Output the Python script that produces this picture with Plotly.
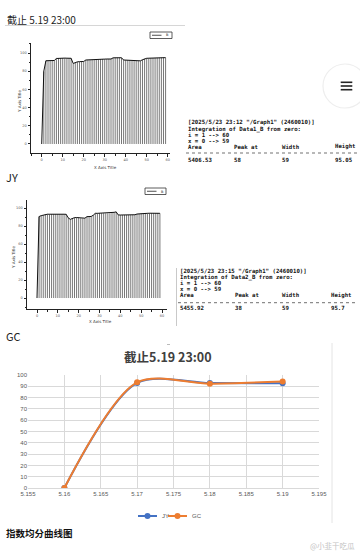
import plotly.graph_objects as go

# ---------------- data ----------------
origin_x = list(range(60))
jy_origin = [0, 80, 91.5, 91.6, 91.6, 91.7, 91.8, 94.0, 94.3, 94.4,
             94.4, 94.4, 94.3, 94.3, 94.2, 88.5, 89.5, 90.3, 90.5, 90.6,
             90.7, 92.3, 92.5, 92.6, 92.6, 92.6, 92.7, 92.7, 93.2, 93.3,
             93.3, 93.4, 93.4, 93.4, 94.7, 94.9, 94.9, 94.8, 94.8, 92.3,
             92.2, 92.2, 92.2, 92.1, 92.1, 91.4, 91.3, 91.4, 92.6, 93.6,
             94.2, 94.3, 94.4, 94.5, 94.6, 94.7, 94.8, 94.9, 95.05, 94.9]
gc_origin = [0, 90.5, 91.5, 92.0, 93.0, 93.1, 93.1, 93.2, 93.2, 93.2,
             93.2, 93.2, 93.1, 93.1, 93.0, 89.0, 87.4, 88.5, 89.3, 89.4,
             89.3, 88.6, 88.5, 88.7, 90.4, 90.5, 90.6, 92.0, 94.1, 94.1,
             94.2, 94.2, 94.2, 94.1, 94.1, 94.2, 94.6, 95.2, 95.7, 92.3,
             92.2, 92.2, 92.3, 92.3, 92.3, 92.4, 92.4, 92.5, 93.3, 93.6,
             94.0, 94.1, 94.1, 94.1, 94.2, 94.2, 94.2, 94.2, 94.2, 94.1]
origin_xticks = [0, 10, 20, 30, 40, 50, 60]
origin_yticks = [0, 20, 40, 60, 80, 100]

report1 = ['[2025/5/23 23:12 "/Graph1" (2460010)]',
           'Integration of Data1_B from zero:',
           'i = 1 --> 60',
           'x = 0 --> 59']
report2 = ['[2025/5/23 23:15 "/Graph1" (2460010)]',
           'Integration of Data2_B from zero:',
           'i = 1 --> 60',
           'x = 0 --> 59']
report_head = ['Area', 'Peak at', 'Width', 'Height']
report1_vals = ['5406.53', '58', '59', '95.05']
report2_vals = ['5455.92', '38', '59', '95.7']

series_names = ['JY', 'GC']
series_colors = ['#4472C4', '#ED7D31']
dates = [5.16, 5.17, 5.18, 5.19]
jy = [0, 93.0, 92.9, 92.6]
gc = [0, 93.5, 92.3, 94.2]
excel_xticks = [5.155, 5.16, 5.165, 5.17, 5.175, 5.18, 5.185, 5.19, 5.195]
excel_xlabels = ['5.155', '5.16', '5.165', '5.17', '5.175', '5.18', '5.185', '5.19', '5.195']
excel_yticks = list(range(0, 101, 10))

W, H = 360, 553
def px(x):
    return x / W
def py(y):
    return 1 - y / H

fig = go.Figure()

def drop_lines(xs, ys):
    lx, ly = [], []
    for a, b in zip(xs, ys):
        lx += [a, a, None]
        ly += [0, b, None]
    return lx, ly

for xs, ys, ax in [(origin_x, jy_origin, ''), (origin_x, gc_origin, '2')]:
    lx, ly = drop_lines(xs, ys)
    fig.add_trace(go.Scatter(x=lx, y=ly, mode='lines', line=dict(color='#555', width=0.8),
                             showlegend=False, hoverinfo='skip',
                             xaxis='x' + ax, yaxis='y' + ax))
    fig.add_trace(go.Scatter(x=xs, y=ys, mode='lines', line=dict(color='#111', width=1),
                             showlegend=False, xaxis='x' + ax, yaxis='y' + ax))

for name, col, vals in zip(series_names, series_colors, [jy, gc]):
    fig.add_trace(go.Scatter(x=dates, y=vals, name=name, mode='lines+markers',
                             line=dict(color=col, width=2, shape='spline', smoothing=0.85),
                             marker=dict(size=6, color=col), showlegend=False,
                             xaxis='x3', yaxis='y3'))

tickfont_o = dict(size=3.5, color='#555', family='DejaVu Sans')
def origin_axes(xd, yd, xr, yr):
    xa = dict(domain=xd, range=xr, tickvals=origin_xticks, showgrid=False, zeroline=False,
              showline=True, linecolor='#222', linewidth=1, ticks='outside', ticklen=2.5,
              tickcolor='#222', tickfont=tickfont_o, automargin=False,
              minor=dict(ticks='outside', ticklen=1.5, dtick=5, tickcolor='#222'))
    ya = dict(domain=yd, range=yr, tickvals=origin_yticks, showgrid=False, zeroline=False,
              showline=True, linecolor='#222', linewidth=1, ticks='outside', ticklen=2.5,
              tickcolor='#222', tickfont=tickfont_o, automargin=False,
              minor=dict(ticks='outside', ticklen=1.5, dtick=10, tickcolor='#222'))
    return xa, ya

xa1, ya1 = origin_axes([px(31), px(170)], [py(153), py(43)], [-5.1, 61.1], [-9.9, 111])
xa2, ya2 = origin_axes([px(27), px(167)], [py(309), py(200)], [-4.8, 62.4], [-12.2, 108.9])
ya1['anchor'] = 'x'; xa1['anchor'] = 'y'
xa2['anchor'] = 'y2'; ya2['anchor'] = 'x2'

grid = '#d9d9d9'
xa3 = dict(domain=[px(28), px(319)], range=[5.155, 5.195], tickvals=excel_xticks,
           ticktext=excel_xlabels, showgrid=True, gridcolor=grid, gridwidth=0.7,
           zeroline=False, showline=True, linecolor=grid, ticks='', automargin=False,
           tickfont=dict(size=6, color='#595959', family='Liberation Sans'), anchor='y3')
ya3 = dict(domain=[py(488), py(375)], range=[0, 100], tickvals=excel_yticks,
           showgrid=True, gridcolor=grid, gridwidth=0.7, zeroline=False, showline=False,
           ticks='', automargin=False,
           tickfont=dict(size=6, color='#595959', family='Liberation Sans'),
           anchor='x3')

fig.update_layout(
    width=W, height=H, margin=dict(l=0, r=0, t=0, b=0, pad=0, autoexpand=False),
    paper_bgcolor='white', plot_bgcolor='white', showlegend=False,
    xaxis=xa1, yaxis=ya1, xaxis2=xa2, yaxis2=ya2, xaxis3=xa3, yaxis3=ya3,
)

ann = []
def text(x, y, s, size, color='#222', xanchor='left', family='Noto Sans CJK SC', angle=0):
    ann.append(dict(x=px(x), y=py(y), xref='paper', yref='paper', text=s, showarrow=False,
                    xanchor=xanchor, yanchor='middle', textangle=angle,
                    font=dict(size=size, color=color, family=family)))

text(5, 19, '截止 5.19 23:00', 10, '#222')
text(4, 177, 'JY', 11, '#222')
text(4, 336, 'GC', 11, '#222')
text(4, 533, '<b>指数均分曲线图</b>', 9.5, '#111')
text(168, 356, '<b>截止5.19 23:00</b>', 12.5, '#404040', xanchor='center')
text(357, 545, '@小韭干吃瓜', 7.5, '#c4c4c4', xanchor='right')

# Origin axis titles
text(105, 167, 'X Axis Title', 4, '#333', xanchor='center', family='DejaVu Sans')
text(19, 102, 'Y Axis Title', 4, '#333', xanchor='center', family='DejaVu Sans', angle=-90)
text(100, 321, 'X Axis Title', 4, '#333', xanchor='center', family='DejaVu Sans')
text(13, 257, 'Y Axis Title', 4, '#333', xanchor='center', family='DejaVu Sans', angle=-90)
text(164, 35, 'B', 3.5, '#222', family='DejaVu Sans')
text(159, 191.5, 'B', 3.5, '#222', family='DejaVu Sans')

mono = 'DejaVu Sans Mono'
def report(x0, ys, lines, cols, vals, yval):
    for yy, s in zip(ys, lines):
        text(x0, yy, '<b>' + s + '</b>', 5.7, '#111', family=mono)
    for cx, s in zip(cols, report_head):
        text(cx, ys[-1] + 6, '<b>' + s + '</b>', 5.7, '#111', family=mono)
    for cx, s in zip(cols, vals):
        text(cx, yval, '<b>' + s + '</b>', 5.7, '#111', family=mono)

report(186, [123, 129, 135, 141], report1, [186, 232, 280, 333], report1_vals, 160)
report(178, [271, 277.3, 283.3, 289.3], report2, [178, 233, 280, 329], report2_vals, 308.3)

shapes = []
def line(x0, y0, x1, y1, color, width=1, dash='solid'):
    shapes.append(dict(type='line', xref='paper', yref='paper', x0=px(x0), y0=py(y0),
                       x1=px(x1), y1=py(y1), line=dict(color=color, width=width, dash=dash)))

line(5, 25.5, 185, 25.5, '#cccccc', 0.8)
line(186, 153, 360, 153, '#333', 0.7, 'dot')
line(178, 302.7, 358, 302.7, '#333', 0.7, 'dot')
line(176.5, 268, 176.5, 326, '#bbbbbb', 0.8)
line(332, 343, 332, 523, '#dddddd', 0.8)
line(167, 344.5, 170, 344.5, '#aaaaaa', 0.8)

# Excel-style legend (JY, GC)
for (sx, tx), name, col in zip([(138, 160), (168, 190)], series_names, series_colors):
    line(sx, 516, sx + 19, 516, col, 2)
    shapes.append(dict(type='circle', xref='paper', yref='paper',
                       x0=px(sx + 6.5), x1=px(sx + 12.5), y0=py(519), y1=py(513),
                       fillcolor=col, line=dict(color=col, width=0)))
    text(tx, 516, name, 6, '#595959', family='Liberation Sans')

# Origin legend boxes
for (x0, y0, x1, y1) in [(150, 32, 172, 38.5), (145, 188, 166, 194.5)]:
    shapes.append(dict(type='rect', xref='paper', yref='paper', x0=px(x0), y0=py(y1),
                       x1=px(x1), y1=py(y0), line=dict(color='#333', width=0.8)))
    line(x0 + 2, (y0 + y1) / 2, x0 + 11.5, (y0 + y1) / 2, '#222', 0.8)

# side menu circle + hamburger
shapes.append(dict(type='circle', xref='paper', yref='paper', x0=px(323), y0=py(108),
                   x1=px(367), y1=py(64), line=dict(color='#eeeeee', width=1.2)))
for yy in [82.3, 86, 89.7]:
    line(340.7, yy, 352.3, yy, '#222', 1.6)

fig.update_layout(annotations=ann, shapes=shapes)
fig.write_html('out.html', config={'displayModeBar': False},
               post_script="document.body.style.margin='0px';"
                           "document.body.style.overflow='hidden';")
